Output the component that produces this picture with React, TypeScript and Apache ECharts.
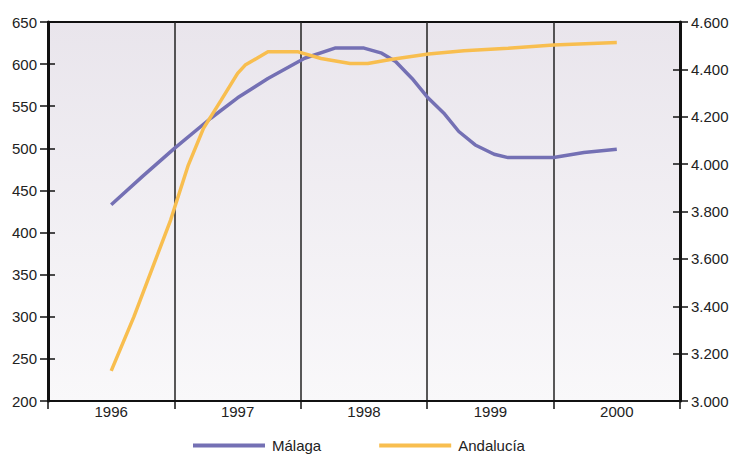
import React, { useEffect, useRef } from "react";
import * as echarts from "echarts";

const years = ["1996", "1997", "1998", "1999", "2000"];

const malagaX = [1996.0, 1996.25, 1996.5, 1996.79, 1997.0, 1997.24, 1997.53, 1997.77, 1998.0, 1998.14, 1998.25, 1998.38, 1998.5, 1998.63, 1998.75, 1998.88, 1999.03, 1999.14, 1999.5, 1999.74, 2000.0];
const malagaY = [433, 467, 500, 536, 560, 583, 607, 619, 619, 613, 603, 583, 561, 542, 520, 504, 493, 489, 489, 495, 499];

const andaluciaX = [1996.0, 1996.18, 1996.34, 1996.47, 1996.61, 1996.73, 1996.87, 1997.0, 1997.06, 1997.24, 1997.48, 1997.66, 1997.89, 1998.03, 1998.21, 1998.51, 1998.79, 1999.14, 1999.5, 2000.0];
const andaluciaY = [3127, 3356, 3581, 3764, 3996, 4151, 4270, 4383, 4418, 4474, 4474, 4446, 4425, 4425, 4442, 4465, 4479, 4489, 4503, 4513];

const FONT = "Liberation Sans";

export default function App() {
  const ref = useRef<HTMLDivElement>(null);
  useEffect(() => {
    if (!ref.current) return;
    const chart = echarts.init(ref.current, null, { renderer: "svg" });
    const fmtDot = (v: number) => {
      const s = String(Math.round(v));
      return s.length > 3 ? s.slice(0, s.length - 3) + "." + s.slice(s.length - 3) : s;
    };
    const labelStyle = { color: "#222", fontFamily: FONT, fontSize: 15 };
    chart.setOption({
      animation: false,
      textStyle: { fontFamily: FONT },
      grid: {
        left: 48,
        right: 55,
        top: 22,
        bottom: 53,
        show: true,
        borderColor: "#111",
        borderWidth: 2,
        backgroundColor: new echarts.graphic.LinearGradient(0, 0, 0, 1, [
          { offset: 0, color: "#e9e5ec" },
          { offset: 1, color: "#f9f8fa" },
        ]),
      },
      legend: {
        top: 433,
        left: 188,
        padding: 5,
        icon: "rect",
        itemWidth: 72,
        itemHeight: 4,
        itemGap: 58,
        textStyle: { color: "#222", fontFamily: FONT, fontSize: 15, padding: [0, 0, 0, 2] },
        data: ["Málaga", "Andalucía"],
      },
      xAxis: [
        {
          type: "category",
          data: years,
          boundaryGap: true,
          position: "bottom",
          axisLine: { lineStyle: { color: "#111", width: 2 } },
          axisTick: { show: true, length: 8, lineStyle: { color: "#111", width: 1.5 } },
          axisLabel: { ...labelStyle, margin: 3 },
          splitLine: { show: true, lineStyle: { color: "#222", width: 1.5 } },
        },
        {
          type: "value",
          min: 1995.5,
          max: 2000.5,
          show: false,
          splitLine: { show: false },
        },
      ],
      yAxis: [
        {
          type: "value",
          position: "left",
          min: 200,
          max: 650,
          interval: 50,
          axisLine: { show: true, lineStyle: { color: "#111", width: 3 } },
          axisTick: { show: true, length: 8, lineStyle: { color: "#111", width: 1.5 } },
          axisLabel: { ...labelStyle, margin: 11 },
          splitLine: { show: false },
        },
        {
          type: "value",
          position: "right",
          min: 3000,
          max: 4600,
          interval: 200,
          axisLine: { show: true, lineStyle: { color: "#111", width: 3 } },
          axisTick: { show: true, length: 8, lineStyle: { color: "#111", width: 1.5 } },
          axisLabel: { ...labelStyle, margin: 11, formatter: fmtDot },
          splitLine: { show: false },
        },
        {
          type: "value",
          position: "left",
          min: 200,
          max: 650,
          interval: 50,
          axisLine: { show: false },
          axisTick: { show: true, inside: true, length: 7, lineStyle: { color: "#111", width: 1.5 } },
          axisLabel: { show: false },
          splitLine: { show: false },
        },
        {
          type: "value",
          position: "right",
          min: 3000,
          max: 4600,
          interval: 200,
          axisLine: { show: false },
          axisTick: { show: true, inside: true, length: 7, lineStyle: { color: "#111", width: 1.5 } },
          axisLabel: { show: false },
          splitLine: { show: false },
        },
      ],
      series: [
        {
          name: "Málaga",
          type: "line",
          xAxisIndex: 1,
          yAxisIndex: 0,
          showSymbol: false,
          symbol: "none",
          itemStyle: { color: "#7470b4" },
          lineStyle: { color: "#7470b4", width: 3.5 },
          data: malagaX.map((x, i) => [x, malagaY[i]]),
        },
        {
          name: "Andalucía",
          type: "line",
          xAxisIndex: 1,
          yAxisIndex: 1,
          showSymbol: false,
          symbol: "none",
          itemStyle: { color: "#f8be4f" },
          lineStyle: { color: "#f8be4f", width: 3.5 },
          data: andaluciaX.map((x, i) => [x, andaluciaY[i]]),
        },
      ],
    });
    return () => chart.dispose();
  }, []);
  return <div ref={ref} style={{ width: 735, height: 454, position: "absolute", left: 0, top: 0 }} />;
}
